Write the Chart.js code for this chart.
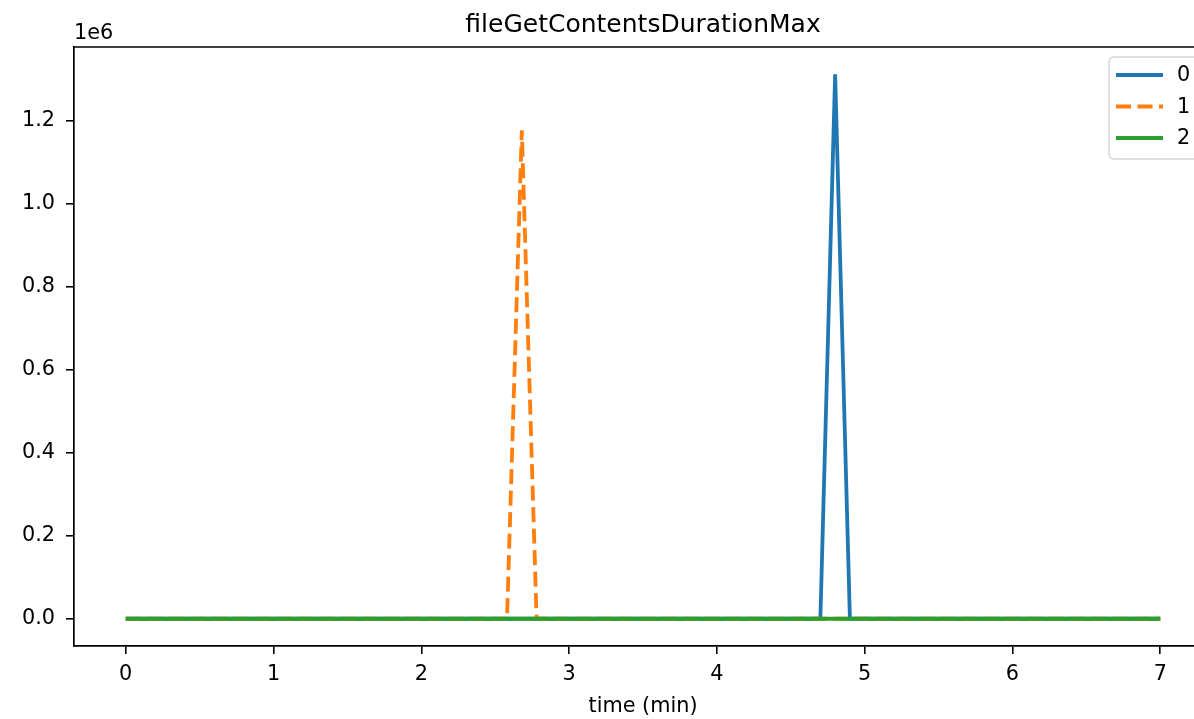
<!DOCTYPE html>
<html>
<head>
<meta charset="utf-8">
<script src="https://cdn.jsdelivr.net/npm/chart.js@4"></script>
<style>
  html, body { margin: 0; padding: 0; background: #fff; overflow: hidden; }
  #wrap { width: 1212px; height: 719px; }
</style>
</head>
<body>
<div id="wrap"><canvas id="chart" width="1212" height="719"></canvas></div>
<script>
/* data (time in minutes, value in raw units) */
const time0 = [0, 4.7, 4.8, 4.9, 7.0]
const values0 = [0, 0, 1311000, 0, 0]

const time1 = [0, 2.58, 2.68, 2.78, 7.0]
const values1 = [0, 0, 1176000, 0, 0]

const time2 = [0, 7.0]
const values2 = [0, 0]

const xTicks = [0, 1, 2, 3, 4, 5, 6, 7]
const yTicks = [0, 200000, 400000, 600000, 800000, 1000000, 1200000]

const seriesNames = ['0', '1', '2']
const colors = ['#1f77b4', '#ff7f0e', '#2ca02c']

const FONT = 'DejaVu Sans'
const BASE = 20.8

const toPoints = (xs, ys) => xs.map((x, i) => ({ x: x, y: ys[i] }))

/* texts + top spine + legend */
const extras = {
  id: 'extras',
  afterDraw(chart) {
    const ctx = chart.ctx
    const a = chart.chartArea
    ctx.save()

    ctx.strokeStyle = '#000'
    ctx.lineWidth = 1.7
    ctx.beginPath()
    ctx.moveTo(a.left, a.top)
    ctx.lineTo(a.right, a.top)
    ctx.stroke()

    ctx.fillStyle = '#000'
    ctx.font = '25px "' + FONT + '"'
    ctx.textAlign = 'center'
    ctx.textBaseline = 'alphabetic'
    ctx.fillText('fileGetContentsDurationMax', (a.left + a.right) / 2, 32)

    ctx.font = BASE + 'px "' + FONT + '"'
    ctx.textAlign = 'left'
    ctx.fillText('1e6', a.left, 39)

    ctx.textAlign = 'center'
    ctx.fillText('time (min)', (a.left + a.right) / 2, 712)

    // legend
    const bx = 1109, by = a.top + 10, bw = 110, bh = 102
    ctx.fillStyle = 'rgba(255,255,255,0.8)'
    ctx.strokeStyle = '#d6d6d6'
    ctx.lineWidth = 1.5
    ctx.beginPath()
    ctx.roundRect(bx, by, bw, bh, 5)
    ctx.fill()
    ctx.stroke()

    chart.data.datasets.forEach((ds, i) => {
      const y = by + 18 + i * 31.5
      ctx.strokeStyle = ds.borderColor
      ctx.lineWidth = ds.borderWidth
      ctx.setLineDash(ds.borderDash || [])
      ctx.beginPath()
      ctx.moveTo(bx + 7, y)
      ctx.lineTo(bx + 54, y)
      ctx.stroke()
      ctx.setLineDash([])
      ctx.fillStyle = '#000'
      ctx.font = BASE + 'px "' + FONT + '"'
      ctx.textAlign = 'left'
      ctx.textBaseline = 'middle'
      ctx.fillText(ds.label, bx + 68, y + 1)
    })
    ctx.restore()
  }
}

const tickFont = { family: FONT, size: BASE }

const ctxChart = document.getElementById('chart').getContext('2d')
const myChart = new Chart(ctxChart, {
  type: 'line',
  data: {
    datasets: [{
      label: seriesNames[0],
      data: toPoints(time0, values0),
      borderColor: colors[0],
      borderWidth: 3.8,
      pointRadius: 0,
      tension: 0,
      order: 2
    }, {
      label: seriesNames[1],
      data: toPoints(time1, values1),
      borderColor: colors[1],
      borderWidth: 3.8,
      borderDash: [15, 6.5],
      pointRadius: 0,
      tension: 0,
      order: 1
    }, {
      label: seriesNames[2],
      data: toPoints(time2, values2),
      borderColor: colors[2],
      borderWidth: 3.8,
      pointRadius: 0,
      tension: 0,
      order: 0
    }]
  },
  options: {
    responsive: false,
    animation: false,
    layout: { padding: { top: 47, left: 0, right: 0, bottom: 0 } },
    plugins: {
      legend: { display: false },
      title: { display: false },
      tooltip: { enabled: false }
    },
    scales: {
      x: {
        type: 'linear',
        min: -0.35,
        max: 7.35,
        afterBuildTicks: (scale) => { scale.ticks = xTicks.map(v => ({ value: v })) },
        afterFit: (scale) => { scale.height = 73 },
        grid: { display: true, drawOnChartArea: false, drawTicks: true, tickLength: 8, color: '#000', lineWidth: 1.6 },
        border: { display: true, color: '#000', width: 1.7 },
        ticks: {
          color: '#000',
          padding: 8,
          maxRotation: 0,
          font: tickFont,
          callback: (v) => String(v)
        }
      },
      y: {
        type: 'linear',
        min: -65550,
        max: 1376550,
        afterBuildTicks: (scale) => { scale.ticks = yTicks.map(v => ({ value: v })) },
        afterFit: (scale) => { scale.width = 74 },
        grid: { display: true, drawOnChartArea: false, drawTicks: true, tickLength: 8, color: '#000', lineWidth: 1.6 },
        border: { display: true, color: '#000', width: 1.7 },
        ticks: {
          color: '#000',
          padding: 11,
          font: tickFont,
          callback: (v) => (v / 1e6).toFixed(1)
        }
      }
    }
  },
  plugins: [extras]
})
</script>
</body>
</html>
